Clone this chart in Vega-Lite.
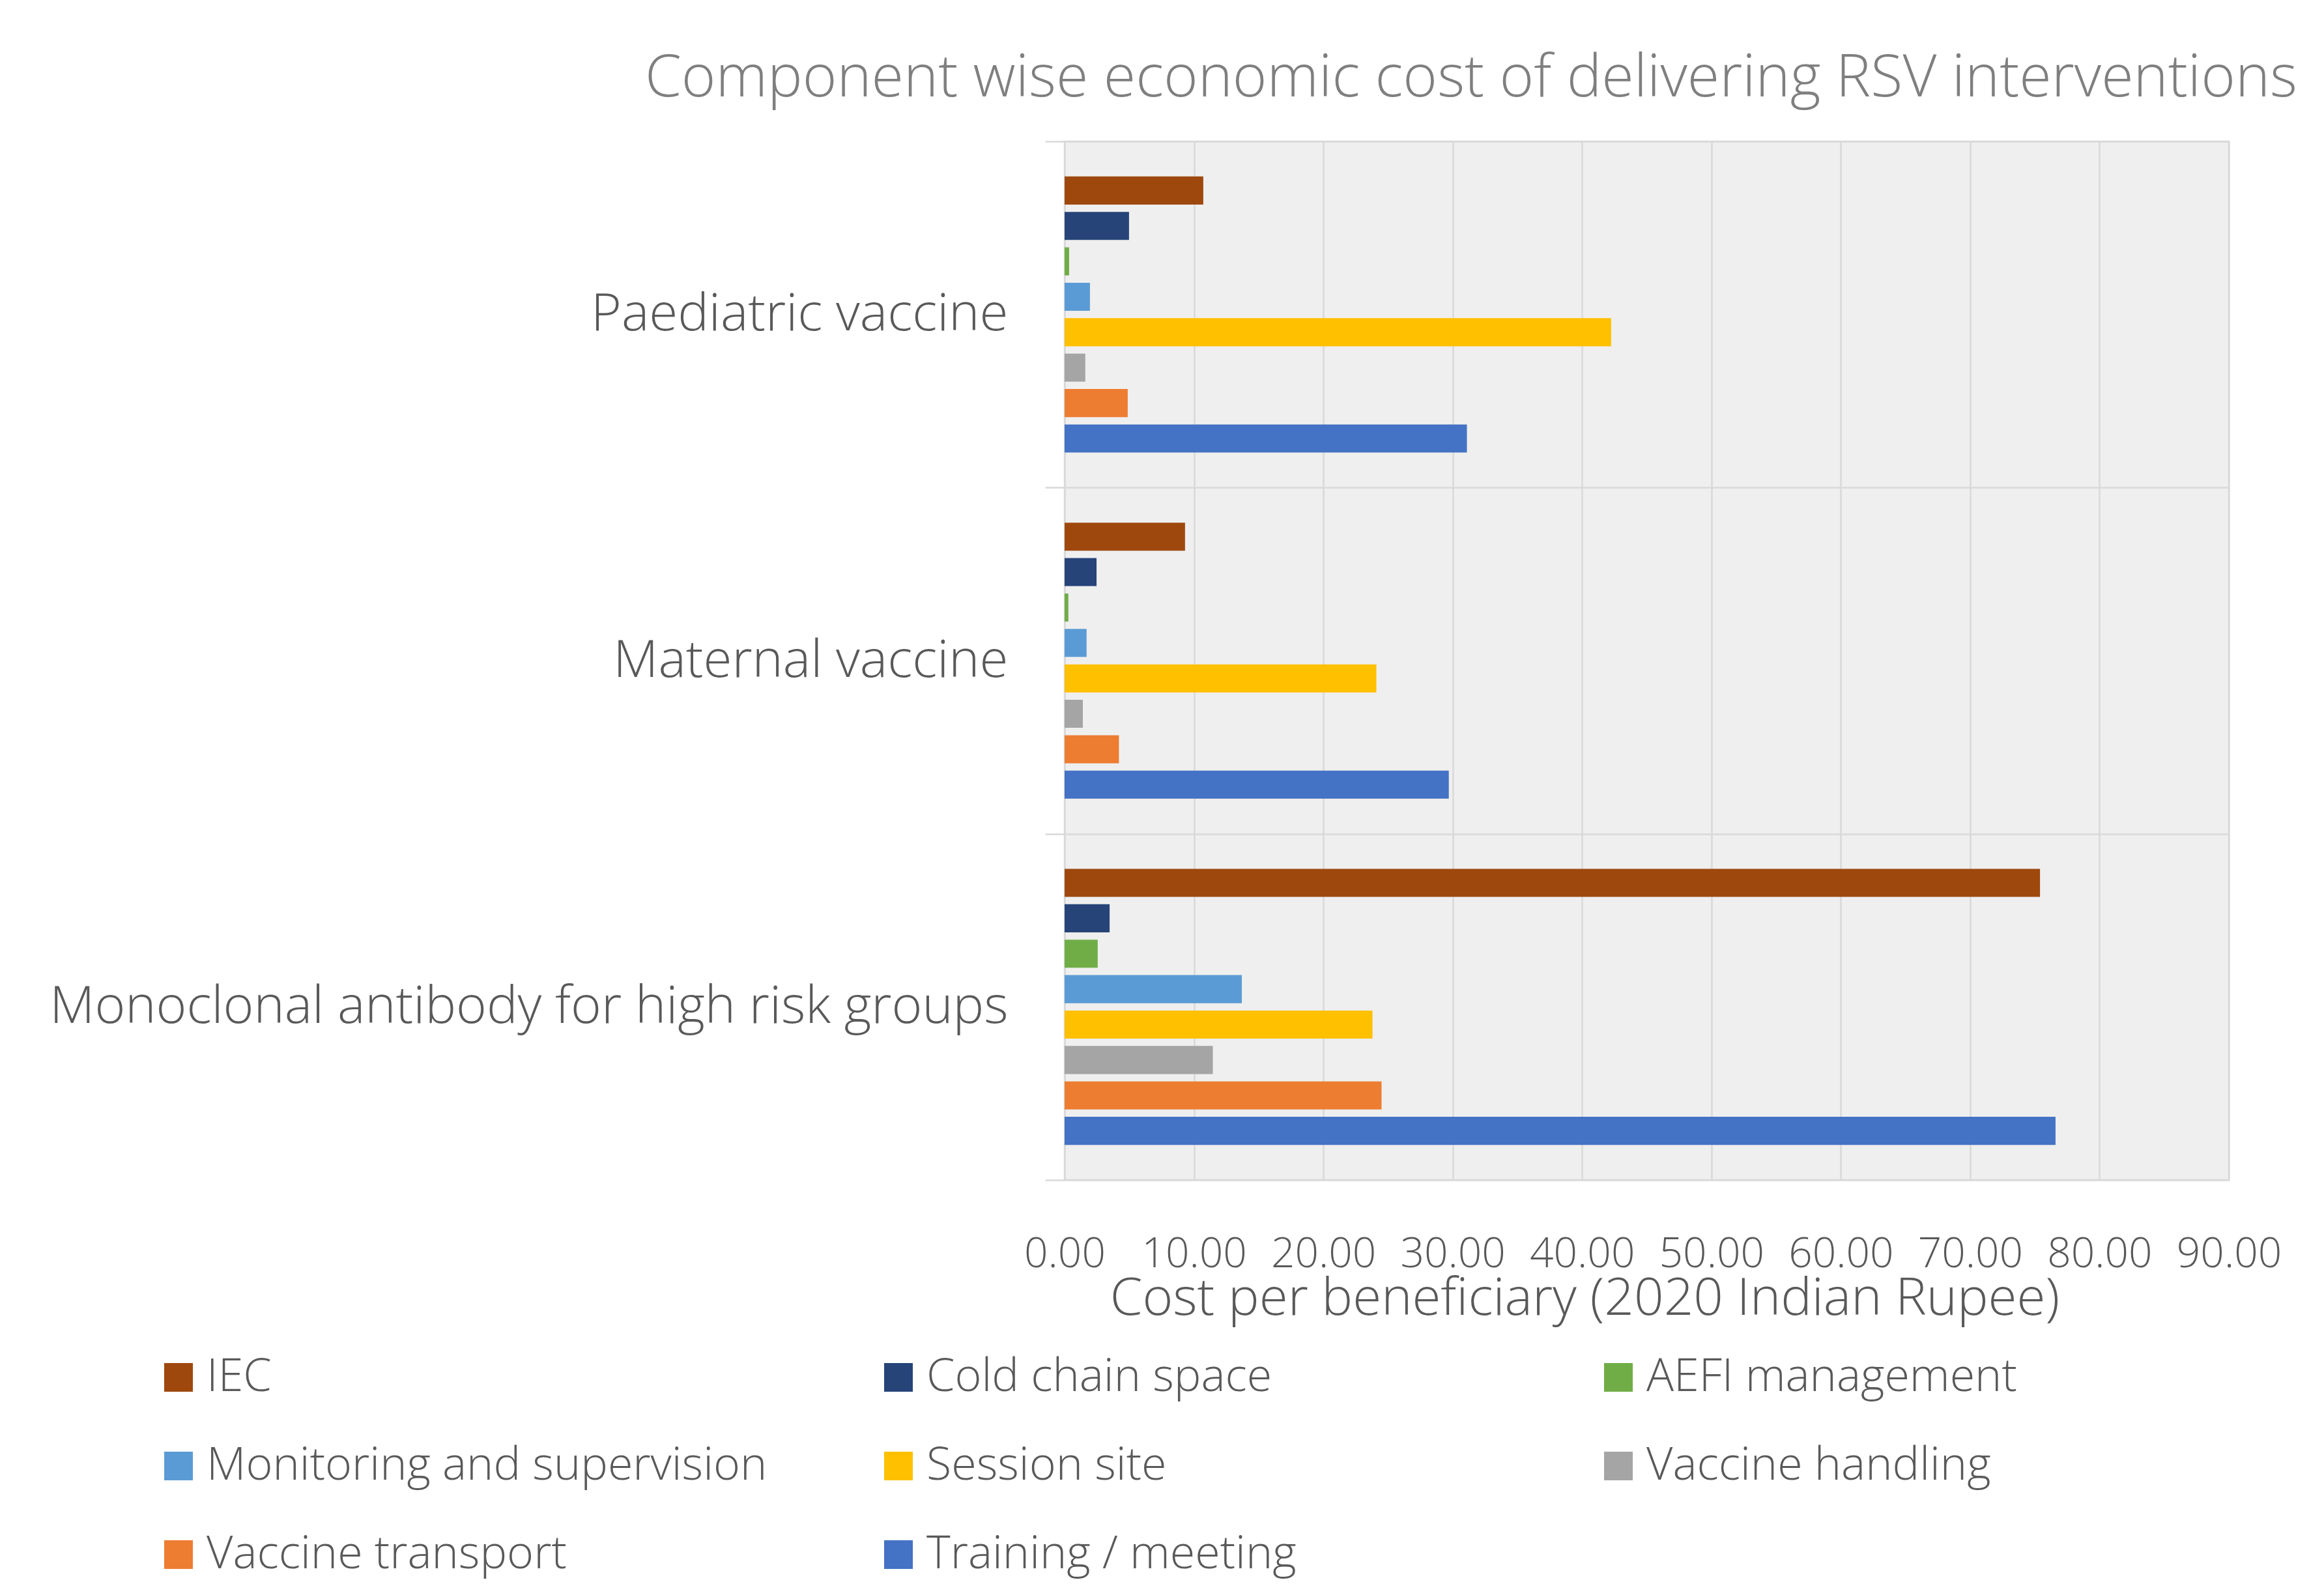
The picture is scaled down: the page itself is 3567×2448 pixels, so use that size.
{
  "$schema": "https://vega.github.io/schema/vega-lite/v6.json",
  "autosize": "none",
  "width": 1787,
  "height": 1594,
  "padding": {"left": 1634, "top": 217, "right": 146, "bottom": 637},
  "background": "white",
  "title": {
    "text": "Component wise economic cost of delivering RSV interventions",
    "anchor": "end",
    "frame": "group",
    "dx": 105,
    "offset": -61,
    "baseline": "alphabetic",
    "fontSize": 90,
    "font": "Open Sans",
    "fontWeight": 300,
    "color": "#7f7f7f"
  },
  "data": {
    "values": [
      {"intervention": "Paediatric vaccine", "component": "IEC", "cost": 10.72},
      {"intervention": "Paediatric vaccine", "component": "Cold chain space", "cost": 4.98},
      {"intervention": "Paediatric vaccine", "component": "AEFI management", "cost": 0.35},
      {"intervention": "Paediatric vaccine", "component": "Monitoring and supervision", "cost": 1.96},
      {"intervention": "Paediatric vaccine", "component": "Session site", "cost": 42.25},
      {"intervention": "Paediatric vaccine", "component": "Vaccine handling", "cost": 1.6},
      {"intervention": "Paediatric vaccine", "component": "Vaccine transport", "cost": 4.88},
      {"intervention": "Paediatric vaccine", "component": "Training / meeting", "cost": 31.1},
      {"intervention": "Maternal vaccine", "component": "IEC", "cost": 9.31},
      {"intervention": "Maternal vaccine", "component": "Cold chain space", "cost": 2.47},
      {"intervention": "Maternal vaccine", "component": "AEFI management", "cost": 0.29},
      {"intervention": "Maternal vaccine", "component": "Monitoring and supervision", "cost": 1.7},
      {"intervention": "Maternal vaccine", "component": "Session site", "cost": 24.1},
      {"intervention": "Maternal vaccine", "component": "Vaccine handling", "cost": 1.41},
      {"intervention": "Maternal vaccine", "component": "Vaccine transport", "cost": 4.2},
      {"intervention": "Maternal vaccine", "component": "Training / meeting", "cost": 29.7},
      {"intervention": "Monoclonal antibody for high risk groups", "component": "IEC", "cost": 75.4},
      {"intervention": "Monoclonal antibody for high risk groups", "component": "Cold chain space", "cost": 3.48},
      {"intervention": "Monoclonal antibody for high risk groups", "component": "AEFI management", "cost": 2.56},
      {"intervention": "Monoclonal antibody for high risk groups", "component": "Monitoring and supervision", "cost": 13.7},
      {"intervention": "Monoclonal antibody for high risk groups", "component": "Session site", "cost": 23.8},
      {"intervention": "Monoclonal antibody for high risk groups", "component": "Vaccine handling", "cost": 11.46},
      {"intervention": "Monoclonal antibody for high risk groups", "component": "Vaccine transport", "cost": 24.5},
      {"intervention": "Monoclonal antibody for high risk groups", "component": "Training / meeting", "cost": 76.6}
    ]
  },
  "mark": {"type": "bar"},
  "encoding": {
    "y": {
      "field": "intervention",
      "type": "nominal",
      "sort": ["Paediatric vaccine", "Maternal vaccine", "Monoclonal antibody for high risk groups"],
      "scale": {"paddingInner": 0, "paddingOuter": 0},
      "axis": {
        "title": null,
        "domain": false,
        "grid": true,
        "gridColor": "#d9d9d9",
        "gridWidth": 2.5,
        "ticks": true,
        "tickBand": "extent",
        "tickSize": 30,
        "tickColor": "#d9d9d9",
        "tickWidth": 2.5,
        "labelFont": "Open Sans",
        "labelFontWeight": 300,
        "labelFontSize": 80,
        "labelColor": "#595959",
        "labelPadding": 57,
        "labelLimit": 2000
      }
    },
    "yOffset": {
      "field": "component",
      "type": "nominal",
      "sort": ["IEC", "Cold chain space", "AEFI management", "Monitoring and supervision", "Session site", "Vaccine handling", "Vaccine transport", "Training / meeting"],
      "scale": {"paddingInner": 0.208, "paddingOuter": 0.99}
    },
    "x": {
      "field": "cost",
      "type": "quantitative",
      "scale": {"domain": [0, 90], "nice": false},
      "axis": {
        "title": "Cost per beneficiary (2020 Indian Rupee)",
        "values": [0, 10, 20, 30, 40, 50, 60, 70, 80, 90],
        "format": ".2f",
        "domain": false,
        "ticks": false,
        "tickSize": 0,
        "grid": true,
        "gridColor": "#d9d9d9",
        "gridWidth": 2.5,
        "labelFont": "Open Sans",
        "labelFontWeight": 300,
        "labelFontSize": 64,
        "labelColor": "#595959",
        "labelBaseline": "alphabetic",
        "labelPadding": 133,
        "labelFlush": false,
        "labelOverlap": false,
        "labelLimit": 1000,
        "titleFont": "Open Sans",
        "titleFontWeight": 300,
        "titleFontSize": 80,
        "titleColor": "#595959",
        "titleX": 798,
        "titleY": 206,
        "titleAlign": "center",
        "titleBaseline": "alphabetic"
      }
    },
    "color": {
      "field": "component",
      "type": "nominal",
      "scale": {
        "domain": ["IEC", "Cold chain space", "AEFI management", "Monitoring and supervision", "Session site", "Vaccine handling", "Vaccine transport", "Training / meeting"],
        "range": ["#9E480E", "#264478", "#70AD47", "#5B9BD5", "#FFC000", "#A5A5A5", "#ED7D31", "#4472C4"]
      },
      "legend": {
        "title": null,
        "orient": "none",
        "legendX": -1395,
        "legendY": 1862,
        "columns": 3,
        "direction": "horizontal",
        "gridAlign": "all",
        "columnPadding": 166,
        "rowPadding": 66,
        "symbolType": "square",
        "symbolSize": 1936,
        "symbolStrokeWidth": 0,
        "symbolOpacity": 1,
        "labelFont": "Open Sans",
        "labelFontWeight": 300,
        "labelFontSize": 70,
        "labelColor": "#595959",
        "labelOffset": 8,
        "labelLimit": 2000
      }
    }
  },
  "config": {
    "view": {"fill": "#efefef", "stroke": "#d9d9d9", "strokeWidth": 2.5}
  }
}
